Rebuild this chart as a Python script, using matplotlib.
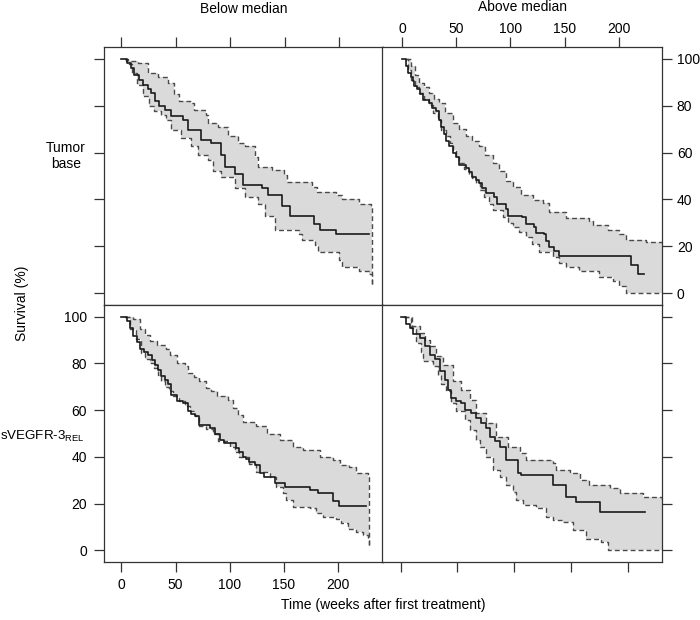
import numpy as np
import matplotlib
matplotlib.use("Agg")
import matplotlib.pyplot as plt

plt.rcParams['font.family'] = ['Liberation Sans', 'DejaVu Sans']
plt.rcParams['mathtext.fontset'] = 'custom'
plt.rcParams['mathtext.rm'] = 'Liberation Sans'
plt.rcParams['font.size'] = 10

# Kaplan-Meier curves: (weeks, survival %), step "post"
# top-left: Tumor base, below median
tl_t = [0, 5, 9, 12, 16, 20, 24, 27, 31, 35, 40, 45.7, 56.5, 61, 73, 82.7, 92, 95, 104, 112,
        129, 135, 147.5, 155, 174, 177, 183, 197, 228]
tl_s = [100, 98, 96, 93, 91, 89, 87, 85.4, 82, 80, 78, 75.4, 74, 69.7, 65.4, 64, 59, 54, 51, 46,
        44.7, 41.9, 37, 33, 33, 29.7, 27, 25.4, 25.4]
tl_up_t = [3, 6, 15, 24, 34, 42.6, 48, 53, 64, 67, 78, 80, 89, 98, 107, 113.6, 123, 126, 138,
           149, 152, 175, 180, 197, 203, 218, 229, 230]
tl_up_s = [100, 99, 98, 94, 92, 89.7, 85, 82, 81, 78, 76, 72.6, 71, 67, 64, 62.6, 58, 54, 52.6,
           50.4, 47.6, 45.4, 43, 42, 40.4, 38, 37, 2.6]
tl_lo_t = [3, 4, 7, 10, 14, 19.4, 25, 30, 36, 41, 45.7, 55, 64, 70, 80, 84, 92, 104, 113.6, 126,
           132, 141, 163, 166, 178, 181, 200, 203, 218, 228, 230]
tl_lo_s = [100, 99, 97.6, 94, 89, 84, 80, 77.6, 76, 74, 69.7, 66, 62.6, 59, 57, 52, 49.7, 44.7,
           41, 38, 33, 27, 25.4, 22.6, 20.4, 17.6, 14, 11, 9.7, 8.3, 2.6]

# top-right: Tumor base, above median
tr_t = [0, 4, 6, 8, 10, 11.4, 14, 17, 19, 25, 28, 31, 34, 36, 39, 41, 43.7, 47, 50, 53, 59, 62,
        65, 68, 71, 74, 77.5, 85, 88, 96, 97.5, 111, 114.5, 122, 123.7, 131, 133, 136, 140, 145,
        210, 211.4, 217.5, 223.7]
tr_s = [100, 97, 94, 92, 90.4, 88.3, 87, 85, 82.6, 81, 79, 77.6, 74, 71, 68, 65, 62.6, 60, 58,
        54.7, 53.3, 51.5, 49.7, 48.5, 47, 45, 42.6, 41, 38, 36, 33, 32.6, 29.7, 28.3, 25.7, 25.4,
        22.5, 19.7, 18, 16, 16, 11.9, 8.3, 8.3]
tr_up_t = [3.7, 8, 12, 16, 20, 25, 30, 34.5, 40, 46.8, 53, 59, 65, 71, 77, 83.7, 90, 96, 102,
           110, 120.6, 130, 136, 151, 173, 176, 190, 200.6, 207, 225, 240]
tr_up_s = [100, 97, 93, 89.7, 88, 85.4, 83, 81, 77, 72.6, 70, 67, 65, 62.6, 59, 55.4, 52, 48,
           45.4, 42, 39.7, 38.3, 34.7, 31.9, 31, 29, 27, 25.4, 22.6, 21.9, 21]
tr_lo_t = [3, 6, 8.3, 12, 16, 20, 25, 29, 33, 36, 40.6, 44, 46.8, 50, 53, 57, 62, 65, 68, 72,
           76, 80, 83.7, 93, 98, 102, 108, 114.5, 120, 126.8, 139, 145, 151, 163.7, 182, 194.5,
           200, 206.8, 240]
tr_lo_s = [100, 95, 91, 88, 85.4, 83, 80.4, 77, 74, 69.7, 67, 64, 61, 58, 55.4, 53, 51, 49, 47,
           44, 41, 38, 35.4, 32.6, 30, 28.3, 26, 24, 21, 17.6, 15.4, 13, 11, 9.7, 6.9, 5.4, 3,
           0, 0]

# bottom-left: sVEGFR-3 REL, below median
bl_t = [0, 5, 8, 11, 14, 17, 21, 24.6, 28, 31, 34, 37, 40, 43, 46, 51, 57, 61.5, 64, 67.7, 72,
        81.5, 86, 91, 95, 106, 109, 112, 115, 118, 123, 127.7, 132, 141.5, 151, 174, 181.5,
        195.4, 201, 226]
bl_s = [100, 98, 95, 91.7, 89, 86, 85, 83.7, 81.5, 79.5, 77, 74.5, 73, 71, 66.6, 63.8, 63,
        59.5, 58.5, 57.3, 53.7, 52.3, 50, 47.3, 45.8, 43.7, 42, 40, 39, 38, 36.5, 33, 31.5, 29,
        27, 25.8, 24.6, 21, 19, 19]
bl_up_t = [3, 6, 11, 17, 22, 26, 33, 41.5, 44.6, 51, 58.5, 61.5, 67, 72, 78.5, 83, 88, 98.5,
           103, 108, 112, 124.6, 134, 146, 158.5, 168, 183, 195.4, 201.5, 210, 217, 227.7, 229]
bl_up_s = [100, 100, 98.8, 94.6, 92, 89.5, 88, 86, 83.8, 80, 78.8, 76, 74, 72.3, 69.5, 68, 66,
           64.5, 61, 58, 55, 53, 50, 47.3, 44.4, 43, 40, 38.7, 36.5, 35.8, 33, 31.5, 2]
bl_lo_t = [3, 7.7, 13.8, 18.5, 22, 26, 30, 34, 37, 40, 44, 47.7, 53, 58.5, 63, 67.7, 72, 78,
           84.6, 89, 100, 105, 109, 118, 124.6, 137, 143, 149, 152, 158.5, 174, 180, 186, 198.5,
           203, 209, 217, 223, 227.7, 229]
bl_lo_s = [100, 94.6, 90.3, 84.5, 82, 80, 78, 75, 72.5, 70, 68, 66, 64, 61.6, 59.5, 57.3, 53,
           52, 50, 46.6, 44.4, 42, 40, 37, 33.7, 31.5, 27.2, 24.4, 21.5, 18.6, 18, 15.8, 14.3,
           13.6, 11.5, 9.3, 7.9, 6.4, 5, 2]

# bottom-right: sVEGFR-3 REL, above median
br_t = [0, 5, 7.9, 10.9, 16.7, 21, 25.5, 30, 34.3, 38.7, 41.6, 44.6, 49, 53.4, 56.3, 62, 66.6,
        71, 75.4, 78.3, 82.7, 87, 93, 103, 106, 134, 145.8, 154.6, 175, 214.7]
br_s = [100, 97, 95.3, 92.4, 91, 87.4, 83.8, 81.7, 76.6, 73, 68.8, 65.2, 63.8, 63, 60.2, 58.7,
        56.6, 54.4, 52.3, 48.7, 46.6, 44.4, 38.7, 33, 32.2, 27.9, 22.9, 20.8, 16.5, 16.5]
br_up_t = [3, 6.5, 10, 16.7, 21, 25.5, 31.4, 37, 46, 53.4, 60.7, 66.6, 75.4, 84, 94.4, 104.7,
           110.6, 134, 137, 148.7, 157.5, 166, 184, 192.7, 213, 230]
br_up_s = [100, 100, 96, 93, 90, 87.4, 83, 79.5, 72.3, 68.8, 64.5, 58.7, 54.4, 48.7, 44.4, 41.5,
           38.7, 37.2, 34.4, 33, 30, 28, 26.5, 24.4, 22.9, 21.5]
br_lo_t = [3, 9.4, 13.8, 18, 19.6, 28.4, 32.8, 35.8, 40, 44.6, 49, 56.3, 60.7, 66.6, 69.5, 75.4,
           81.2, 87, 93, 98.8, 101.8, 107.6, 119.4, 128, 134, 142.8, 151.6, 163.4, 176.6, 182.4,
           230]
br_lo_s = [100, 95.3, 88.8, 85, 81, 78.8, 75.2, 71, 68, 63, 59.5, 55.9, 51.6, 47.3, 44.4, 40,
           34.4, 31.5, 28, 25, 21.5, 19.3, 17.9, 14.3, 12.9, 12.2, 8.6, 5, 3.6, 0, 0]

col_labels = ["Below median", "Above median"]
xticks = [0, 50, 100, 150, 200]
yticks = [0, 20, 40, 60, 80, 100]

W, H = 700, 620
fig = plt.figure(figsize=(7, 6.2), dpi=100)

L, R, T, B = 104, 662, 47, 562
MX, MY = 382.5, 305


def box(x0, y0, x1, y1):
    return [x0 / W, 1 - y1 / H, (x1 - x0) / W, (y1 - y0) / H]


def stepval(t, s, grid):
    idx = np.searchsorted(t, grid, side='right') - 1
    return np.asarray(s)[np.clip(idx, 0, len(s) - 1)]


def panel(ax, km, up, lo, xlim):
    grid = np.union1d(up[0], lo[0])
    grid = grid[grid <= min(up[0][-1], lo[0][-1])]
    ax.fill_between(grid, stepval(lo[0], lo[1], grid), stepval(up[0], up[1], grid),
                    step='post', color='#dadada', lw=0)
    for t, s in (up, lo):
        ax.step(t, s, where='post', color='#4a4a4a', lw=1.0, ls=(0, (3.5, 2.2)))
    ax.step(km[0], km[1], where='post', color='#1a1a1a', lw=1.2)
    ax.set_xlim(*xlim)
    ax.set_ylim(-5, 105)
    ax.set_xticks(xticks)
    ax.set_yticks(yticks)
    for sp in ax.spines.values():
        sp.set_color('#333333')
        sp.set_linewidth(0.9)
    ax.tick_params(direction='out', length=7.2, width=0.9, color='#333333',
                   labelsize=10,
                   bottom=False, top=False, left=False, right=False,
                   labelbottom=False, labeltop=False, labelleft=False, labelright=False)
    ax.tick_params(axis='x', which='both', pad=3.5)
    ax.tick_params(axis='y', which='both', pad=3.5)


ax_tl = fig.add_axes(box(L, T, MX, MY))
ax_tr = fig.add_axes(box(MX, T, R, MY))
ax_bl = fig.add_axes(box(L, MY, MX, B))
ax_br = fig.add_axes(box(MX, MY, R, B))

panel(ax_tl, (tl_t, tl_s), (tl_up_t, tl_up_s), (tl_lo_t, tl_lo_s), (-16, 240))
panel(ax_tr, (tr_t, tr_s), (tr_up_t, tr_up_s), (tr_lo_t, tr_lo_s), (-18, 240))
panel(ax_bl, (bl_t, bl_s), (bl_up_t, bl_up_s), (bl_lo_t, bl_lo_s), (-16, 241))
panel(ax_br, (br_t, br_s), (br_up_t, br_up_s), (br_lo_t, br_lo_s), (-16, 230))

ax_tl.tick_params(top=True, left=True)
ax_tr.tick_params(top=True, labeltop=True, right=True, labelright=True)
ax_tr.tick_params(axis='x', pad=0.5)
ax_bl.tick_params(bottom=True, labelbottom=True, left=True, labelleft=True)
ax_bl.tick_params(axis='x', pad=4.5)
ax_bl.tick_params(axis='y', pad=5)
ax_br.tick_params(bottom=True, right=True)

fig.text(244 / W, 1 - 9 / H, col_labels[0], ha='center', va='center', fontsize=10)
fig.text(523 / W, 1 - 7 / H, col_labels[1], ha='center', va='center', fontsize=10)
fig.text(66 / W, 1 - 156 / H, "Tumor\nbase", ha='center', va='center', fontsize=10,
         multialignment='center', linespacing=1.1)
fig.text(0.5 / W, 1 - 436 / H, r"sVEGFR-3$_{\mathrm{REL}}$", ha='left', va='center',
         fontsize=9.6)
fig.text(22 / W, 1 - 303 / H, "Survival (%)", rotation=90, ha='center', va='center', fontsize=10)
fig.text(383 / W, 1 - 605 / H, "Time (weeks after first treatment)", ha='center', va='center',
         fontsize=10)

fig.savefig("out.png", dpi=100)
